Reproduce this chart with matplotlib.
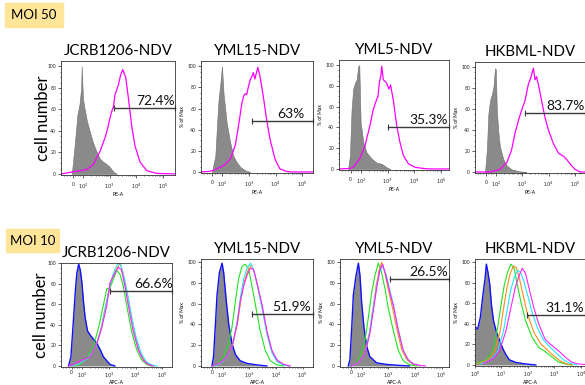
import matplotlib.pyplot as plt
from matplotlib.patches import Rectangle
import numpy as np

plt.rcParams['font.family'] = ['Lato', 'DejaVu Sans']

# x values are in display decades (2 = 10^2, 3 = 10^3 ...), y in % of max
# ---- MOI 50, PE-A ----
jcrb50_ctrl_x = [1.58, 1.7, 1.79, 1.87, 1.93, 1.95, 2.0, 2.05, 2.14, 2.27, 2.39, 2.52, 2.64, 2.77, 2.89, 3.02, 3.14, 3.27]
jcrb50_ctrl_y = [0, 30, 55, 65, 80, 100, 70, 62, 50, 38, 28, 20, 14, 11, 9, 6, 2, 0]
jcrb50_pos_x = [1.18, 1.64, 1.89, 2.14, 2.39, 2.64, 2.83, 2.9, 2.95, 3.01, 3.1, 3.14, 3.2, 3.26, 3.33, 3.41, 3.49, 3.55, 3.6, 3.7, 3.83, 3.95, 4.14, 4.39, 4.76, 5.45]
jcrb50_pos_y = [0, 2, 3, 4, 9, 21, 34, 40, 45, 52, 60, 62, 74, 78, 83, 92, 97, 93, 90, 71, 44, 26, 11, 3, 0.5, 0]

yml15_50_ctrl_x = [1.6, 1.73, 1.79, 1.85, 1.92, 1.98, 2.04, 2.1, 2.16, 2.29, 2.41, 2.54, 2.66, 2.85, 3.05]
yml15_50_ctrl_y = [0, 15, 43, 68, 84, 100, 74, 60, 46, 28, 15, 9, 5, 1.5, 0]
yml15_50_pos_x = [1.19, 1.5, 1.66, 2.04, 2.29, 2.48, 2.6, 2.73, 2.8, 2.85, 2.91, 2.97, 3.04, 3.1, 3.16, 3.22, 3.27, 3.33, 3.41, 3.54, 3.66, 3.79, 3.98, 4.16, 4.41, 4.6, 5.41]
yml15_50_pos_y = [0, 0.5, 1.5, 6, 12, 25, 43, 65, 72, 74, 73, 80, 87, 90, 94, 88, 93, 99, 91, 71, 50, 31, 12, 3, 0.5, 0, 0]

yml5_50_ctrl_x = [1.52, 1.59, 1.65, 1.71, 1.78, 1.84, 1.9, 1.94, 1.99, 2.09, 2.21, 2.4, 2.59, 2.78, 2.96, 3.1]
yml5_50_ctrl_y = [0, 13, 57, 77, 83, 86, 99, 100, 45, 26, 16, 10, 6, 5, 1.6, 0]
yml5_50_pos_x = [1.18, 1.6, 1.71, 1.96, 2.15, 2.34, 2.46, 2.59, 2.64, 2.69, 2.75, 2.78, 2.84, 2.96, 3.05, 3.11, 3.21, 3.34, 3.46, 3.59, 3.78, 4.03, 4.34, 4.6, 5.3]
yml5_50_pos_y = [0, 0.5, 1.6, 10, 22, 42, 57, 67, 70, 83, 90, 99, 86, 83, 77, 81, 67, 42, 26, 13, 5, 1.6, 0.5, 0, 0]

hkbml50_ctrl_x = [1.58, 1.65, 1.71, 1.77, 1.84, 1.9, 1.96, 1.99, 2.03, 2.09, 2.15, 2.28, 2.41, 2.59, 2.9, 3.15]
hkbml50_ctrl_y = [0, 21, 56, 68, 74, 81, 99, 98, 59, 37, 24, 12, 6, 2.5, 0.5, 0]
hkbml50_pos_x = [1.2, 1.8, 2.15, 2.41, 2.59, 2.72, 2.85, 2.97, 3.1, 3.23, 3.32, 3.42, 3.48, 3.54, 3.63, 3.73, 3.86, 3.99, 4.18, 4.37, 4.56, 4.68, 4.87, 5.0, 5.19, 5.38]
hkbml50_pos_y = [0, 0, 2.5, 9, 21, 37, 49, 59, 68, 84, 90, 99, 88, 91, 81, 68, 52, 40, 27, 18, 15, 12, 6, 2.5, 0, 0]

# ---- MOI 10, APC-A ----
jcrb10_ctrl_x = [1.5, 1.59, 1.69, 1.75, 1.81, 1.88, 1.94, 2.0, 2.06, 2.12, 2.21, 2.31, 2.43, 2.56, 2.68, 2.8, 2.93, 3.05, 3.23]
jcrb10_ctrl_y = [0, 9, 47, 71, 90, 99, 93, 81, 62, 47, 34, 30, 26, 22, 16, 9, 5, 1.5, 0]
jcrb10_green_x = [1.7, 1.94, 2.19, 2.43, 2.62, 2.8, 2.93, 3.05, 3.17, 3.3, 3.42, 3.54, 3.67, 3.85, 4.04, 4.22, 4.41, 4.6]
jcrb10_green_y = [0, 1.5, 8, 19, 37, 59, 75, 76, 84, 93, 89, 78, 59, 34, 16, 6, 1.5, 0]
jcrb10_orange_x = [1.6, 1.9, 2.25, 2.5, 2.7, 2.88, 3.02, 3.15, 3.3, 3.42, 3.52, 3.65, 3.8, 3.97, 4.15, 4.33, 4.52, 4.7]
jcrb10_orange_y = [0, 2, 8, 18, 35, 58, 75, 88, 94, 100, 92, 76, 55, 31, 14, 5, 1, 0]
jcrb10_cyan_x = [1.6, 1.9, 2.25, 2.52, 2.72, 2.9, 3.05, 3.2, 3.35, 3.45, 3.57, 3.7, 3.85, 4.02, 4.2, 4.4, 4.6, 4.8]
jcrb10_cyan_y = [0, 2, 8, 19, 36, 60, 78, 92, 100, 98, 86, 70, 48, 28, 13, 4, 1, 0]
jcrb10_mag_x = [1.5, 1.69, 1.94, 2.31, 2.56, 2.74, 2.93, 3.05, 3.23, 3.36, 3.48, 3.6, 3.73, 3.91, 4.1, 4.28, 4.47, 4.65]
jcrb10_mag_y = [0, 1.5, 5, 9, 22, 37, 59, 81, 90, 96, 93, 78, 59, 34, 16, 6, 1.5, 0]

yml15_10_ctrl_x = [1.6, 1.66, 1.73, 1.79, 1.88, 1.98, 2.04, 2.14, 2.23, 2.35, 2.48, 2.66, 2.91, 3.29, 3.66]
yml15_10_ctrl_y = [0, 9, 40, 68, 90, 99, 90, 62, 40, 22, 11, 5, 2.5, 1, 0]
yml15_10_green_x = [1.6, 1.79, 2.04, 2.23, 2.35, 2.48, 2.6, 2.73, 2.85, 2.98, 3.1, 3.23, 3.41, 3.6, 3.79, 4.04, 4.29]
yml15_10_green_y = [0, 1.5, 9, 22, 37, 62, 84, 96, 98, 93, 77, 59, 34, 15, 5, 1, 0]
yml15_10_orange_x = [1.7, 1.95, 2.2, 2.4, 2.57, 2.7, 2.82, 2.95, 3.07, 3.18, 3.32, 3.5, 3.68, 3.87, 4.06, 4.3, 4.5]
yml15_10_orange_y = [0, 3, 10, 22, 43, 66, 82, 92, 97, 91, 76, 54, 30, 12, 4, 1, 0]
yml15_10_cyan_x = [1.7, 1.95, 2.2, 2.4, 2.56, 2.68, 2.8, 2.93, 3.05, 3.17, 3.3, 3.48, 3.66, 3.85, 4.04, 4.28, 4.5]
yml15_10_cyan_y = [0, 3, 10, 23, 45, 68, 85, 95, 99, 92, 78, 56, 31, 13, 4, 1, 0]
yml15_10_mag_x = [1.6, 1.91, 2.16, 2.35, 2.54, 2.66, 2.79, 2.91, 3.04, 3.16, 3.29, 3.48, 3.66, 3.85, 4.04, 4.29, 4.54]
yml15_10_mag_y = [0, 3, 9, 19, 40, 62, 77, 87, 94, 93, 80, 59, 34, 15, 6, 1.5, 0]

yml5_10_ctrl_x = [1.5, 1.56, 1.63, 1.69, 1.79, 1.88, 1.94, 2.0, 2.09, 2.19, 2.31, 2.56, 2.94, 3.44, 3.8]
yml5_10_ctrl_y = [0, 6, 37, 68, 87, 99, 87, 62, 37, 19, 9, 3, 1.5, 0.5, 0]
yml5_10_green_x = [1.6, 1.75, 1.94, 2.13, 2.25, 2.38, 2.5, 2.63, 2.75, 2.88, 3.0, 3.19, 3.38, 3.56, 3.81, 4.06]
yml5_10_green_y = [0, 1.5, 9, 25, 46, 71, 87, 99, 90, 74, 56, 34, 15, 5, 1, 0]
yml5_10_orange_x = [1.6, 1.88, 2.13, 2.3, 2.43, 2.55, 2.66, 2.76, 2.87, 3.0, 3.15, 3.32, 3.5, 3.7, 3.9, 4.15]
yml5_10_orange_y = [0, 3, 13, 33, 56, 78, 92, 100, 90, 74, 57, 36, 16, 6, 2, 0]
yml5_10_cyan_x = [1.6, 1.88, 2.13, 2.3, 2.43, 2.56, 2.68, 2.8, 2.92, 3.05, 3.2, 3.37, 3.55, 3.74, 3.93, 4.2]
yml5_10_cyan_y = [0, 3, 12, 32, 55, 76, 91, 96, 88, 74, 58, 36, 16, 6, 2, 0]
yml5_10_mag_x = [1.6, 1.88, 2.13, 2.31, 2.44, 2.56, 2.69, 2.79, 2.91, 3.06, 3.21, 3.38, 3.56, 3.75, 3.94, 4.19, 4.4]
yml5_10_mag_y = [0, 3, 12, 31, 53, 74, 93, 98, 87, 71, 56, 34, 15, 6, 2, 0.5, 0]

# HKBML MOI 10 is on a plain log axis (0 = 10^0)
hkbml10_ctrl_x = [0, 0.1, 0.2, 0.3, 0.38, 0.43, 0.49, 0.56, 0.62, 0.7, 0.8, 0.93, 1.05, 1.17, 1.3, 1.54, 1.9, 2.3]
hkbml10_ctrl_y = [37, 35, 46, 68, 84, 98, 90, 78, 59, 43, 33, 24, 16, 10, 5, 2.5, 1, 0]
hkbml10_green_x = [0.06, 0.43, 0.68, 0.86, 0.99, 1.11, 1.23, 1.36, 1.48, 1.6, 1.73, 1.91, 2.16, 2.41, 2.65, 2.9, 3.15, 3.4, 3.64]
hkbml10_green_y = [1.5, 5, 14, 37, 59, 78, 90, 98, 94, 78, 62, 43, 27, 17, 13, 8, 3, 1, 0]
hkbml10_orange_x = [0.1, 0.5, 0.75, 0.95, 1.08, 1.2, 1.32, 1.45, 1.56, 1.68, 1.8, 1.98, 2.22, 2.47, 2.72, 2.97, 3.22, 3.47, 3.7]
hkbml10_orange_y = [1, 5, 13, 33, 55, 74, 88, 96, 95, 84, 70, 50, 32, 21, 15, 9, 4, 1, 0]
hkbml10_cyan_x = [0.2, 0.6, 0.85, 1.07, 1.22, 1.35, 1.5, 1.62, 1.72, 1.84, 1.97, 2.15, 2.36, 2.6, 2.85, 3.1, 3.35, 3.6, 3.85]
hkbml10_cyan_y = [1, 5, 13, 32, 54, 73, 86, 92, 90, 82, 70, 52, 36, 24, 17, 11, 5, 1.5, 0]
hkbml10_mag_x = [0.31, 0.68, 0.93, 1.17, 1.36, 1.52, 1.67, 1.79, 1.91, 2.04, 2.22, 2.41, 2.65, 2.9, 3.15, 3.4, 3.64, 3.89, 4.16]
hkbml10_mag_y = [1.5, 6, 14, 33, 56, 75, 87, 94, 89, 75, 56, 40, 25, 19, 14, 8, 3, 1, 0.5]

titles = ['JCRB1206-NDV', 'YML15-NDV', 'YML5-NDV', 'HKBML-NDV']
pct_moi50 = ['72.4%', '63%', '35.3%', '83.7%']
gate_y_moi50 = [61, 48, 40, 56]
gate_start_moi50 = [3.18, 3.1, 3.03, 3.1]
pct_moi10 = ['66.6%', '51.9%', '26.5%', '31.1%']
gate_y_moi10 = [73, 50, 84, 49]
gate_start_moi10 = [3.05, 3.1, 3.06, 1.98]

W, H = 585, 385
fig = plt.figure(figsize=(W / 100, H / 100), dpi=100)


def px_rect(l, t, r, b):
    return [l / W, 1 - b / H, (r - l) / W, (b - t) / H]


logicle_ticks = [1.62, 2, 3, 4, 5]
logicle_labels = ['0', '$10^2$', '$10^3$', '$10^4$', '$10^5$']
logicle_minor = [1.3, 1.4, 1.5, 1.7, 1.8, 1.9] + [n + np.log10(k) for n in (2, 3, 4) for k in range(2, 10)]
log_ticks = [0, 1, 2, 3, 4]
log_labels = ['$10^0$', '$10^1$', '$10^2$', '$10^3$', '$10^4$']
log_minor = [n + np.log10(k) for n in (0, 1, 2, 3) for k in range(2, 10)]


def setup(ax, xlim, ytop, title, xlab, first, ticks, labels, minor, xpad):
    ax.set_xlim(*xlim)
    ax.set_ylim(-1, ytop)
    ax.set_xticks(ticks)
    ax.set_xticklabels(labels)
    ax.set_xticks([m for m in minor if xlim[0] < m < xlim[1]], minor=True)
    ax.set_yticks([0, 20, 40, 60, 80, 100])
    ax.set_yticks(range(5, 100, 5), minor=True)
    ax.tick_params(labelsize=3.6, length=2, width=0.5, pad=1.5, colors='#222222')
    ax.tick_params(axis='x', pad=xpad)
    ax.tick_params(which='minor', length=1, width=0.4)
    for s in ax.spines.values():
        s.set_linewidth(0.6)
        s.set_color('#333333')
    ax.set_title(title, fontsize=10.8, pad=4)
    ax.set_xlabel(xlab, fontsize=3.6, labelpad=0.3)
    if not first:
        ax.set_ylabel('% of Max', fontsize=3.6, labelpad=2)


def gate(ax, x0, x1, y, txt, tx):
    ax.plot([x0, x1], [y, y], color='#3a3a3a', lw=1.0, marker='|', ms=4, mew=0.8, clip_on=False)
    ax.text(tx, y + 1, txt, fontsize=10, ha='center', va='bottom', color='#111111')


# ---------- MOI 50 ----------
rects50 = [px_rect(61, 61, 175, 175), px_rect(201, 61, 313, 173),
           px_rect(339, 60, 449, 170), px_rect(475, 62, 585, 173)]
xlims50 = [(1.175, 5.45), (1.19, 5.41), (1.18, 5.3), (1.2, 5.38)]
ctrl50 = [(jcrb50_ctrl_x, jcrb50_ctrl_y), (yml15_50_ctrl_x, yml15_50_ctrl_y),
          (yml5_50_ctrl_x, yml5_50_ctrl_y), (hkbml50_ctrl_x, hkbml50_ctrl_y)]
pos50 = [(jcrb50_pos_x, jcrb50_pos_y), (yml15_50_pos_x, yml15_50_pos_y),
         (yml5_50_pos_x, yml5_50_pos_y), (hkbml50_pos_x, hkbml50_pos_y)]
text_x50 = [4.72, 4.58, 4.53, 4.66]

for i in range(4):
    ax = fig.add_axes(rects50[i])
    cx, cy = ctrl50[i]
    ax.fill_between(cx, cy, 0, color='#8a8a8a', lw=0.4, edgecolor='#6f6f6f')
    px, py = pos50[i]
    ax.plot(px, py, color='#ff00ff', lw=0.9)
    setup(ax, xlims50[i], 105, titles[i], 'PE-A', i == 0, logicle_ticks, logicle_labels, logicle_minor, 3)
    gate(ax, gate_start_moi50[i], xlims50[i][1], gate_y_moi50[i], pct_moi50[i], text_x50[i])

# ---------- MOI 10 ----------
box10 = [(61, 263, 172, 367), (201, 259, 313, 367), (340, 259, 449, 367), (475, 259, 585, 366)]
xlims10 = [(1.22, 5.36), (1.19, 5.39), (1.19, 5.28), (0, 4.16)]
ytop10 = [100, 103, 103, 103]
ctrl10 = [(jcrb10_ctrl_x, jcrb10_ctrl_y), (yml15_10_ctrl_x, yml15_10_ctrl_y),
          (yml5_10_ctrl_x, yml5_10_ctrl_y), (hkbml10_ctrl_x, hkbml10_ctrl_y)]
lines10 = [
    [(jcrb10_green_x, jcrb10_green_y), (jcrb10_orange_x, jcrb10_orange_y), (jcrb10_cyan_x, jcrb10_cyan_y), (jcrb10_mag_x, jcrb10_mag_y)],
    [(yml15_10_green_x, yml15_10_green_y), (yml15_10_orange_x, yml15_10_orange_y), (yml15_10_cyan_x, yml15_10_cyan_y), (yml15_10_mag_x, yml15_10_mag_y)],
    [(yml5_10_green_x, yml5_10_green_y), (yml5_10_orange_x, yml5_10_orange_y), (yml5_10_cyan_x, yml5_10_cyan_y), (yml5_10_mag_x, yml5_10_mag_y)],
    [(hkbml10_green_x, hkbml10_green_y), (hkbml10_orange_x, hkbml10_orange_y), (hkbml10_cyan_x, hkbml10_cyan_y), (hkbml10_mag_x, hkbml10_mag_y)],
]
line_colors = ['#22e022', '#ff8c1a', '#22e5ff', '#ff22ff']
text_x10 = [4.68, 4.6, 4.52, 3.4]

for i in range(4):
    l, t, r, b = box10[i]
    ax = fig.add_axes(px_rect(l, t, r, b))
    cx, cy = ctrl10[i]
    ax.fill_between(cx, cy, 0, color='#8a8a8a', lw=0)
    ax.plot(cx, cy, color='#1010ff', lw=1.0)
    for (lx, ly), col in zip(lines10[i], line_colors):
        ax.plot(lx, ly, color=col, lw=0.8)
    if i < 3:
        setup(ax, xlims10[i], ytop10[i], titles[i], 'APC-A', i == 0, logicle_ticks, logicle_labels, logicle_minor, 0.8)
    else:
        setup(ax, xlims10[i], ytop10[i], titles[i], 'APC-A', False, log_ticks, log_labels, log_minor, 0.8)
    ax.tick_params(axis='x', which='major', length=1.6)
    # keep the axis label just inside the bottom edge of the picture
    ax.xaxis.set_label_coords(0.5, -(384.6 - b) / (b - t))
    ax.xaxis.label.set_va('bottom')
    gate(ax, gate_start_moi10[i], xlims10[i][1], gate_y_moi10[i], pct_moi10[i], text_x10[i])

# row labels
fig.text(43 / W, 1 - 118 / H, 'cell number', rotation=90, fontsize=12, ha='center', va='center')
fig.text(41 / W, 1 - 315 / H, 'cell number', rotation=90, fontsize=12, ha='center', va='center')

for (l, t, r, b), label in [((5, 3, 63, 27), 'MOI 50'), ((6, 229, 59, 252), 'MOI 10')]:
    fig.patches.append(Rectangle((l / W, 1 - b / H), (r - l) / W, (b - t) / H,
                                 transform=fig.transFigure, color='#ffe599', zorder=0))
    fig.text((l + r) / 2 / W, 1 - (t + b) / 2 / H, label, fontsize=9.5, ha='center', va='center')

fig.savefig('out.png', dpi=100)
